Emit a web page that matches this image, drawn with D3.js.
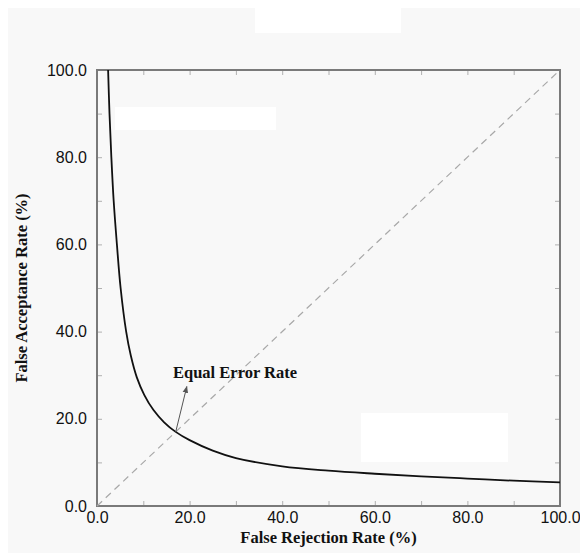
<!DOCTYPE html>
<html>
<head>
<meta charset="utf-8">
<script src="https://cdn.jsdelivr.net/npm/d3@7"></script>
<style>
  html, body { margin: 0; padding: 0; background: #fff; }
  svg { display: block; }
  .tick text { font-family: "Liberation Sans", Arial, sans-serif; font-size: 16px; fill: #111; }
  .title { font-family: "Liberation Serif", "Times New Roman", serif; font-weight: bold; font-size: 16.5px; fill: #111; }
</style>
</head>
<body>
<svg class="chart"></svg>
<script>
// ---- data ----
// curve: false rejection rate (%) vs false acceptance rate (%)
var frr = [2.4, 2.7, 3.1, 3.6, 4.3, 5.1, 6.3, 7.3, 8.6, 10.2, 12.2, 14.5, 17.0, 20.0, 25.0, 30.0, 40.0, 50.0, 60.0, 70.0, 80.0, 90.0, 100.0];
var far = [100, 90, 80, 70, 60, 50, 40, 34.5, 29.5, 25.5, 22.0, 19.2, 17.0, 15.1, 12.7, 11.0, 9.1, 8.1, 7.4, 6.8, 6.3, 5.8, 5.4];
var diagonal = [0, 100];
var tickValues = [0, 10, 20, 30, 40, 50, 60, 70, 80, 90, 100];
var labelValues = [0, 20, 40, 60, 80, 100];
var eer = [17.0, 17.0];        // equal error rate point
var arrowTip = [19.4, 27.4];   // where the annotation arrow points
var eerLabel = "Equal Error Rate";
var xTitle = "False Rejection Rate (%)";
var yTitle = "False Acceptance Rate (%)";

// ---- layout ----
var width = 580, height = 553;
var mLeft = 97, mRight = 560, mTop = 70, mBottom = 506;

var svg = d3.select(".chart").attr("width", width).attr("height", height);

// panel background (light gray, with thin white margin top/left)
svg.append("rect").attr("x", 0).attr("y", 0).attr("width", width).attr("height", height).attr("fill", "#fff");
svg.append("rect").attr("x", 8).attr("y", 8).attr("width", width - 8).attr("height", height - 8).attr("fill", "#f8f8f8");

// white patches where labels were removed
var patches = [[255, 7, 146, 26], [115, 107, 161, 23], [361, 413, 147, 49]];
svg.selectAll("rect.patch").data(patches).enter().append("rect")
  .attr("class", "patch")
  .attr("x", d => d[0]).attr("y", d => d[1])
  .attr("width", d => d[2]).attr("height", d => d[3])
  .attr("fill", "#fff");

var x = d3.scaleLinear().domain([0, 100]).range([mLeft, mRight]);
var y = d3.scaleLinear().domain([0, 100]).range([mBottom, mTop]);
var fmt = function(d) { return labelValues.indexOf(d) >= 0 ? d3.format(".1f")(d) : ""; };

// axes with inward ticks
var xAxis = svg.append("g")
  .attr("transform", "translate(0," + mBottom + ")")
  .call(d3.axisBottom(x).tickValues(tickValues).tickFormat(fmt).tickSizeInner(-5).tickSizeOuter(0).tickPadding(3));
var yAxis = svg.append("g")
  .attr("transform", "translate(" + mLeft + ",0)")
  .call(d3.axisLeft(y).tickValues(tickValues).tickFormat(fmt).tickSizeInner(-5).tickSizeOuter(0).tickPadding(10));
svg.append("g")
  .attr("transform", "translate(0," + mTop + ")")
  .call(d3.axisTop(x).tickValues(tickValues).tickFormat("").tickSizeInner(-5).tickSizeOuter(0));
svg.append("g")
  .attr("transform", "translate(" + mRight + ",0)")
  .call(d3.axisRight(y).tickValues(tickValues).tickFormat("").tickSizeInner(-5).tickSizeOuter(0));

svg.selectAll(".domain").remove();
svg.selectAll(".tick line").attr("stroke", "#b0b0b0").attr("stroke-width", 1);
xAxis.selectAll(".tick text").attr("dy", "0.9em");

// frame
svg.append("rect")
  .attr("x", mLeft).attr("y", mTop)
  .attr("width", mRight - mLeft).attr("height", mBottom - mTop)
  .attr("fill", "none").attr("stroke", "#7a7a7a").attr("stroke-width", 2);

// diagonal dashed line
svg.append("line")
  .attr("x1", x(diagonal[0])).attr("y1", y(diagonal[0]))
  .attr("x2", x(diagonal[1])).attr("y2", y(diagonal[1]))
  .attr("stroke", "#a8a8a8").attr("stroke-width", 1.2)
  .attr("stroke-dasharray", "7,5");

// curve
svg.append("path")
  .datum(far)
  .attr("d", d3.line().x((d, i) => x(frr[i])).y(d => y(d)).curve(d3.curveCatmullRom.alpha(0.5)))
  .attr("fill", "none").attr("stroke", "#111").attr("stroke-width", 1.8);

// EER annotation arrow
svg.append("defs").append("marker")
  .attr("id", "head").attr("viewBox", "0 0 10 10")
  .attr("refX", 9).attr("refY", 5)
  .attr("markerWidth", 7).attr("markerHeight", 7)
  .attr("orient", "auto")
  .append("path").attr("d", "M0,1L10,5L0,9z").attr("fill", "#555");
svg.append("line")
  .attr("x1", x(eer[0])).attr("y1", y(eer[1]))
  .attr("x2", x(arrowTip[0])).attr("y2", y(arrowTip[1]))
  .attr("stroke", "#555").attr("stroke-width", 1)
  .attr("marker-end", "url(#head)");
svg.append("text")
  .attr("class", "title")
  .attr("x", 173).attr("y", 378)
  .text(eerLabel);

// axis titles
svg.append("text")
  .attr("class", "title")
  .attr("text-anchor", "middle")
  .attr("x", (mLeft + mRight) / 2).attr("y", 543)
  .text(xTitle);
svg.append("text")
  .attr("class", "title")
  .attr("text-anchor", "middle")
  .attr("transform", "translate(27," + ((mTop + mBottom) / 2) + ") rotate(-90)")
  .text(yTitle);
</script>
</body>
</html>
